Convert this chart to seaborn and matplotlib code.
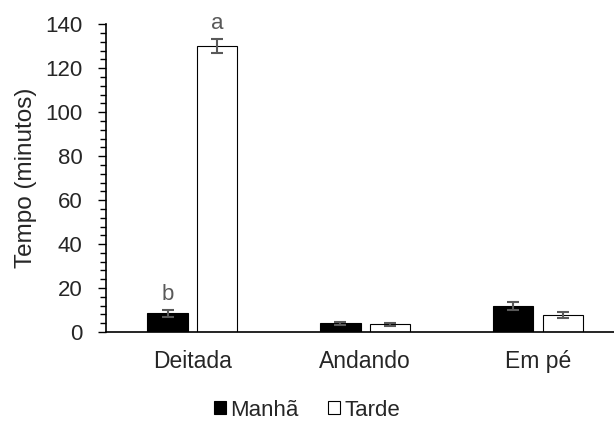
import matplotlib
matplotlib.use("Agg")
import matplotlib.pyplot as plt
import seaborn as sns
import pandas as pd
from matplotlib.patches import Patch
from matplotlib.ticker import AutoMinorLocator, MultipleLocator

categories = ["Deitada", "Andando", "Em pé"]
periods = ["Manhã", "Tarde"]
manha = [8.5, 4.0, 11.9]
tarde = [130.2, 3.6, 7.7]
manha_err = [1.5, 0.7, 1.8]
tarde_err = [3.2, 0.7, 1.4]
letters_manha = ["b", "", ""]
letters_tarde = ["a", "", ""]

sns.set_theme(style="white")
plt.rcParams["font.family"] = ["Liberation Sans", "DejaVu Sans"]

df = pd.DataFrame({
    "Comportamento": categories * 2,
    "Período": [periods[0]] * 3 + [periods[1]] * 3,
    "Tempo": manha + tarde,
})

fig = plt.figure(figsize=(6.14, 4.21), dpi=100)
ax = fig.add_axes([0.1726, 0.2114, 0.8274, 0.7309])

sns.barplot(data=df, x="Comportamento", y="Tempo", hue="Período",
            hue_order=periods, order=categories,
            palette=["black", "white"], edgecolor="black", linewidth=0.8,
            width=0.574, gap=0.185, errorbar=None, legend=False, ax=ax)

errs = [manha_err, tarde_err]
letters = [letters_manha, letters_tarde]
for cont, err, lets in zip(ax.containers, errs, letters):
    xs = [p.get_x() + p.get_width() / 2 for p in cont]
    ys = [p.get_height() for p in cont]
    ax.errorbar(xs, ys, yerr=err, fmt="none", ecolor="#595959",
                elinewidth=1.5, capsize=4.5, capthick=1.5, zorder=5)
    for x, y, e, t in zip(xs, ys, err, lets):
        if t:
            ax.text(x, y + e + 4.6, t, ha="center", va="baseline",
                    fontsize=16, color="#595959", clip_on=False)

ax.set_xlim(-0.5, 2.44)
ax.set_ylim(0, 140)
ax.yaxis.set_major_locator(MultipleLocator(20))
ax.yaxis.set_minor_locator(AutoMinorLocator(5))
ax.tick_params(axis="y", which="major", direction="out", length=6,
               width=1, color="black", labelsize=16, pad=11, left=True)
ax.tick_params(axis="y", which="minor", direction="out", length=4,
               width=1, color="black", left=True)
ax.tick_params(axis="x", length=0, labelsize=16.5, pad=13)
for s in ["top", "right"]:
    ax.spines[s].set_visible(False)
ax.spines["left"].set_color("black")
ax.spines["bottom"].set_color("black")
ax.spines["left"].set_linewidth(1.2)
ax.spines["bottom"].set_linewidth(1.2)
ax.set_xlabel("")
ax.set_ylabel("Tempo (minutos)", fontsize=17.5, labelpad=6)

handles = [Patch(facecolor="black", edgecolor="black", linewidth=0.8),
           Patch(facecolor="white", edgecolor="black", linewidth=0.8)]
fig.legend(handles, periods, loc="center", bbox_to_anchor=(0.5, 0.026),
           ncol=2, frameon=False, fontsize=16, handlelength=0.55,
           handleheight=0.55, handletextpad=0.2, columnspacing=1.3)

fig.savefig("out.png", dpi=100)
